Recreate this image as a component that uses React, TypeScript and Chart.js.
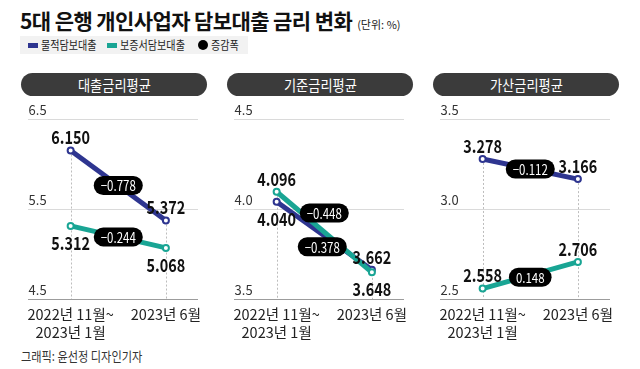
import React, { useEffect, useRef } from 'react';
import { Chart, registerables } from 'chart.js';

Chart.register(...registerables);

// ---------- data ----------
const periods: string[][] = [['2022년 11월~', '2023년 1월'], ['2023년 6월']];
const panelTitles = ['대출금리평균', '기준금리평균', '가산금리평균'];
const seriesNames = ['물적담보대출', '보증서담보대출'];
const deltaLegend = '증감폭';
const collateralRates = [
  [6.15, 5.372],
  [4.04, 3.662],
  [3.278, 3.166],
];
const guaranteeRates = [
  [5.312, 5.068],
  [4.096, 3.648],
  [2.558, 2.706],
];
const yMins = [4.5, 3.5, 2.5];
const yMaxs = [6.5, 4.5, 3.5];
const yStep = 1;

// ---------- style ----------
const BLUE = '#2e3590';
const TEAL = '#19a594';
const SANS = '"Noto Sans CJK KR", "Noto Sans", sans-serif';
const KR = '"Noto Sans CJK KR", sans-serif';

const panelLefts = [21, 227, 433];
const PANEL_W = 186;
const CANVAS_TOP = 100;
const CANVAS_H = 245;

const labelSides = [
  { blue: ['top', 'top'], teal: ['bottom', 'bottom'] },
  { blue: ['bottom', 'top'], teal: ['top', 'bottom'] },
  { blue: ['top', 'top'], teal: ['top', 'top'] },
];
const pillOffsets = [
  { blue: [0, 0], teal: [0, 0] },
  { blue: [-2, 11], teal: [0, -19] },
  { blue: [0, 0], teal: [0, 2] },
];

function condensedText(
  ctx: CanvasRenderingContext2D,
  text: string,
  x: number,
  y: number,
  font: string,
  color: string,
  sx: number
) {
  ctx.save();
  ctx.font = font;
  ctx.fillStyle = color;
  ctx.textAlign = 'center';
  ctx.textBaseline = 'middle';
  ctx.translate(x, y);
  ctx.scale(sx, 1);
  ctx.fillText(text, 0, 0);
  ctx.restore();
}

const overlayPlugin = {
  id: 'overlay',
  beforeDatasetsDraw(chart: any) {
    const { ctx, chartArea } = chart;
    const metas = chart.getSortedVisibleDatasetMetas();
    const n = metas[0].data.length;
    for (let i = 0; i < n; i++) {
      let top = Infinity;
      let x = 0;
      metas.forEach((m: any) => {
        top = Math.min(top, m.data[i].y);
        x = m.data[i].x;
      });
      ctx.save();
      ctx.setLineDash([2, 2]);
      ctx.strokeStyle = '#bdbdbd';
      ctx.lineWidth = 1;
      ctx.beginPath();
      ctx.moveTo(Math.round(x) + 0.5, top);
      ctx.lineTo(Math.round(x) + 0.5, chartArea.bottom);
      ctx.stroke();
      ctx.restore();
    }
  },
  afterDatasetsDraw(chart: any, _args: any, opts: any) {
    const { ctx } = chart;
    const keys = ['blue', 'teal'];
    chart.data.datasets.forEach((ds: any, di: number) => {
      const meta = chart.getDatasetMeta(di);
      const p0 = meta.data[0];
      const p1 = meta.data[1];
      const d = ds.data[1].y - ds.data[0].y;
      const text = (d < 0 ? '\u2212' : '') + Math.abs(d).toFixed(3);
      const [dx, dy] = opts.offsets[keys[di]];
      const cx = (p0.x + p1.x) / 2 + dx;
      const cy = (p0.y + p1.y) / 2 + dy;
      const font = `14px ${SANS}`;
      const sx = 0.82;
      ctx.save();
      ctx.font = font;
      const w = ctx.measureText(text).width * sx + 14;
      const h = 19;
      ctx.fillStyle = '#000';
      ctx.beginPath();
      ctx.roundRect(cx - w / 2, cy - h / 2, w, h, h / 2);
      ctx.fill();
      ctx.restore();
      condensedText(ctx, text, cx, cy + 0.5, font, '#fff', sx);
    });
    chart.data.datasets.forEach((ds: any, di: number) => {
      const meta = chart.getDatasetMeta(di);
      meta.data.forEach((pt: any, i: number) => {
        const side = opts.sides[keys[di]][i];
        const y = side === 'top' ? pt.y - 13 : pt.y + 17;
        condensedText(ctx, ds.data[i].y.toFixed(3), pt.x, y, `bold 18px ${SANS}`, '#111', 0.8);
      });
    });
  },
};

function Panel({ idx }: { idx: number }) {
  const ref = useRef<HTMLCanvasElement>(null);
  useEffect(() => {
    const canvas = ref.current!;
    const mkData = (vals: number[]) => vals.map((v, i) => ({ x: i, y: v }));
    const chart = new Chart(canvas, {
      type: 'line',
      data: {
        datasets: [
          {
            label: seriesNames[0],
            data: mkData(collateralRates[idx]),
            borderColor: BLUE,
            borderWidth: 5,
            pointRadius: 3,
            pointBorderWidth: 2,
            pointBackgroundColor: '#fff',
            pointBorderColor: BLUE,
            order: 1,
          } as any,
          {
            label: seriesNames[1],
            data: mkData(guaranteeRates[idx]),
            borderColor: TEAL,
            borderWidth: 5,
            pointRadius: 3,
            pointBorderWidth: 2,
            pointBackgroundColor: '#fff',
            pointBorderColor: TEAL,
            order: 0,
          } as any,
        ],
      },
      options: {
        animation: false,
        responsive: false,
        devicePixelRatio: 1,
        layout: { padding: { top: 19, left: 0, right: 0, bottom: 0 } },
        plugins: {
          legend: { display: false },
          tooltip: { enabled: false },
          overlay: { sides: labelSides[idx], offsets: pillOffsets[idx] },
        } as any,
        scales: {
          x: {
            type: 'linear',
            min: -0.452,
            max: 1.337,
            grid: { display: false, drawTicks: false },
            border: { display: false },
            afterBuildTicks: (s: any) => {
              s.ticks = periods.map((_, i) => ({ value: i }));
            },
            afterFit: (s: any) => {
              s.height = 46;
            },
            ticks: {
              autoSkip: false,
              maxRotation: 0,
              padding: 6,
              color: '#222',
              font: { family: SANS, size: 14.5, lineHeight: 1.25 },
              callback: (v: any) => periods[v as number],
            },
          },
          y: {
            min: yMins[idx],
            max: yMaxs[idx],
            border: { display: false },
            grid: {
              drawTicks: false,
              lineWidth: 1,
              color: (c: any) => (c.tick && c.tick.value === yMins[idx] ? '#9c9c9c' : '#dadada'),
            },
            afterFit: (s: any) => {
              s.width = 0;
            },
            ticks: {
              stepSize: yStep,
              mirror: true,
              padding: 1,
              labelOffset: -9,
              color: '#333',
              font: { family: SANS, size: 13 },
              callback: (v: any) => Number(v).toFixed(1),
            },
          },
        },
      },
      plugins: [overlayPlugin as any],
    });
    return () => chart.destroy();
  }, [idx]);

  const left = panelLefts[idx];
  return (
    <>
      <div
        style={{
          position: 'absolute',
          left,
          top: 73,
          width: PANEL_W,
          height: 23,
          borderRadius: 12,
          background: '#3b3b3b',
          color: '#fff',
          fontFamily: KR,
          fontSize: 15,
          lineHeight: '23px',
          textAlign: 'center',
        }}
      >
        <span style={{ display: 'inline-block', transform: 'scaleX(0.88)' }}>{panelTitles[idx]}</span>
      </div>
      <canvas
        ref={ref}
        width={PANEL_W + 1}
        height={CANVAS_H}
        style={{ position: 'absolute', left, top: CANVAS_TOP, width: PANEL_W + 1, height: CANVAS_H }}
      />
    </>
  );
}

const legendText: React.CSSProperties = {
  position: 'absolute',
  top: 36,
  fontSize: 12,
  lineHeight: '18px',
  whiteSpace: 'nowrap',
  transform: 'scaleX(0.84)',
  transformOrigin: 'left center',
  color: '#222',
};

export default function App() {
  return (
    <div
      style={{
        position: 'fixed',
        left: 0,
        top: 0,
        width: 640,
        height: 369,
        background: '#fff',
        overflow: 'hidden',
        fontFamily: KR,
        color: '#111',
      }}
    >
      <div style={{ position: 'absolute', left: 20, top: 5, whiteSpace: 'nowrap', lineHeight: '30px' }}>
        <span style={{ fontSize: 21, fontWeight: 700, letterSpacing: -0.6 }}>5대 은행 개인사업자 담보대출 금리 변화</span>
        <span style={{ fontSize: 11, marginLeft: 5, color: '#222' }}>(단위: %)</span>
      </div>
      <div style={{ position: 'absolute', left: 20, top: 36, width: 228, height: 18, background: '#f2f2f2' }} />
      <div style={{ position: 'absolute', left: 28, top: 43, width: 10, height: 5, background: BLUE }} />
      <div style={{ ...legendText, left: 41 }}>{seriesNames[0]}</div>
      <div style={{ position: 'absolute', left: 107, top: 43, width: 10, height: 5, background: TEAL }} />
      <div style={{ ...legendText, left: 120 }}>{seriesNames[1]}</div>
      <div style={{ position: 'absolute', left: 198, top: 40, width: 10, height: 10, borderRadius: 5, background: '#000' }} />
      <div style={{ ...legendText, left: 211 }}>{deltaLegend}</div>
      {[0, 1, 2].map((i) => (
        <Panel key={i} idx={i} />
      ))}
      <div
        style={{
          position: 'absolute',
          left: 21,
          top: 347,
          fontSize: 13,
          lineHeight: '18px',
          color: '#333',
          whiteSpace: 'nowrap',
          transform: 'scaleX(0.86)',
          transformOrigin: 'left center',
        }}
      >
        그래픽: 윤선정 디자인기자
      </div>
    </div>
  );
}
